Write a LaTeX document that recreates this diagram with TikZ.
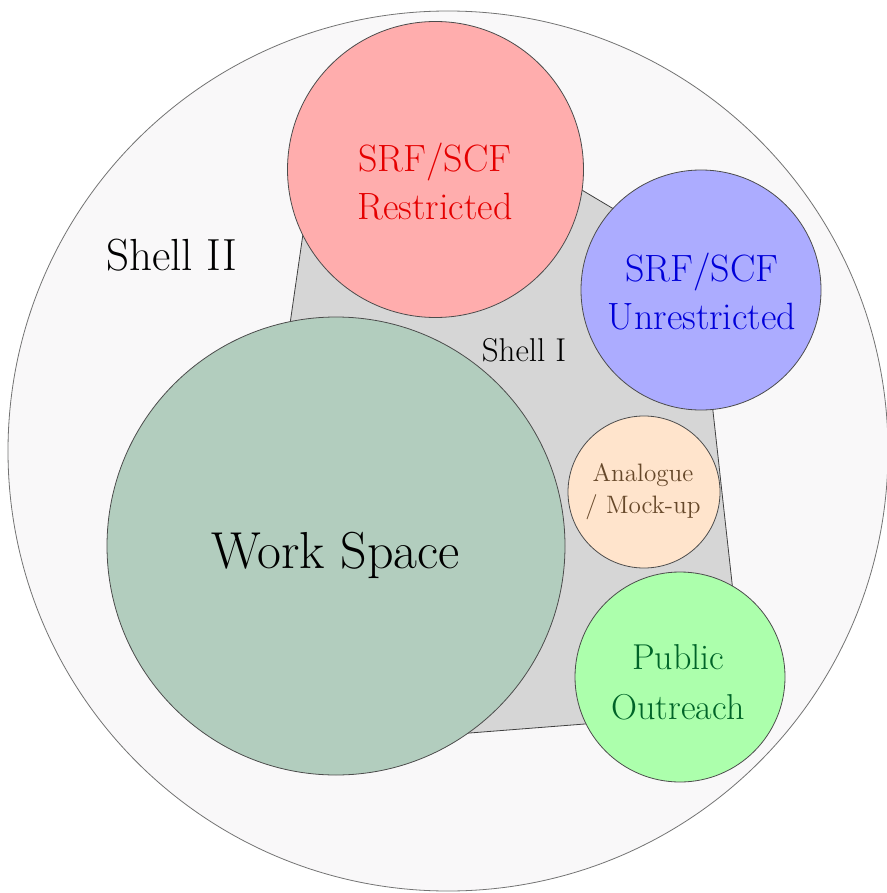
\documentclass[tikz,border=0pt]{standalone}
\usetikzlibrary{positioning}
\usetikzlibrary{shapes}
\definecolor{shelltwo}{RGB}{249,248,249}
\definecolor{shellone}{RGB}{214,214,214}
\definecolor{restrictedfill}{RGB}{255,173,173}
\definecolor{unrestrictedfill}{RGB}{172,172,255}
\definecolor{workfill}{RGB}{178,205,190}
\definecolor{mockfill}{RGB}{255,228,204}
\definecolor{outreachfill}{RGB}{172,255,172}
\definecolor{mocktext}{RGB}{102,72,42}
\definecolor{outreachtext}{RGB}{0,100,40}
\tikzset{
        zone/.style={circle, inner sep=0pt, outer sep=0pt, draw=black!70, line width=0.4pt},
        % Outer shell
        zone_shell/.style={zone, fill=shelltwo, draw=black!55, minimum size=440pt},
        % Inner shell (gray area)
        zone_inner/.style={fill=shellone, draw=black!75, line width=0.4pt},
        % Facility circles
        zone_restricted/.style={zone, fill=restrictedfill, minimum size=148pt},
        zone_unrestricted/.style={zone, fill=unrestrictedfill, minimum size=120pt},
        zone_work/.style={zone, fill=workfill, minimum size=229pt},
        zone_mock/.style={zone, fill=mockfill, minimum size=76pt},
        zone_outreach/.style={zone, fill=outreachfill, minimum size=105pt},
        % Texts
        zone_text/.style={align=center, inner sep=0pt}
}
\begin{document}
\begin{tikzpicture}[x=0.5pt, y=-0.5pt]
    \useasboundingbox (0,0) rectangle (887,893);
    \node[zone_shell] (shell2) at (448,451) {};
    % corners of shell I, the hidden ones lie under the circles
    \coordinate (s1) at (318,130);
    \coordinate (s2) at (560,177);
    \coordinate (s3) at (696,258);
    \coordinate (s4) at (745,700);
    \coordinate (s5) at (700,715);
    \coordinate (s6) at (380,740);
    \coordinate (s7) at (279,400);
    \draw[zone_inner] (s1) -- (s2) -- (s3) -- (s4) -- (s5) -- (s6) -- (s7) -- cycle;
    \node[zone_restricted] (restricted) at (435.5,169.5) {};
    \node[zone_unrestricted] (unrestricted) at (701,290) {};
    \node[zone_work] (work) at (336,546) {};
    \node[zone_mock] (mock) at (644,492) {};
    \node[zone_outreach] (outreach) at (680,677) {};
    % labels
    \node[zone_text, font=\fontsize{22.5}{26}\selectfont] (shell2_text) at (172,255) {Shell II};
    \node[zone_text, font=\fontsize{16.5}{20}\selectfont] (shell1_text) at (524,350) {Shell I};
    \node[zone_text, text=red!90!black, font=\fontsize{19}{24}\selectfont] (restricted_text) at (435,182) {SRF/SCF\\Restricted};
    \node[zone_text, text=blue!85!black, font=\fontsize{19}{24}\selectfont] (unrestricted_text) at (702,292) {SRF/SCF\\Unrestricted};
    \node[zone_text, font=\fontsize{26}{30}\selectfont] (work_text) at (336,555) {Work Space};
    \node[zone_text, text=mocktext, font=\fontsize{12.6}{16}\selectfont] (mock_text) at (643,492) {Analogue\\/ Mock-up};
    \node[zone_text, text=outreachtext, font=\fontsize{18}{25}\selectfont] (outreach_text) at (678,682) {Public\\Outreach};
\end{tikzpicture}
\end{document}
